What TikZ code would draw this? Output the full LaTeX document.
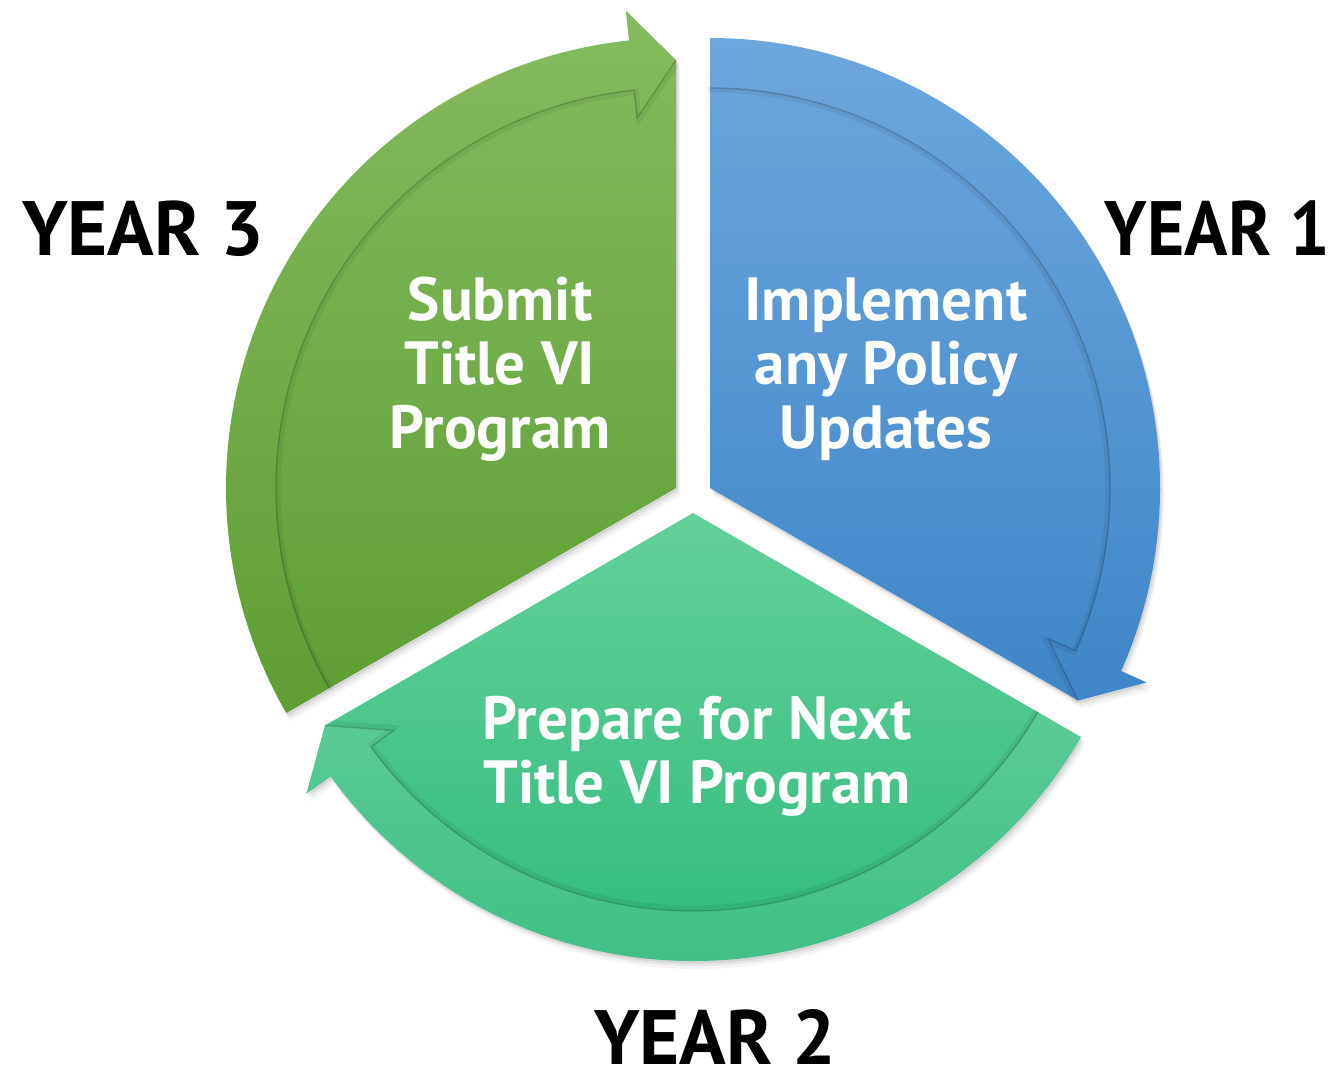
\documentclass[tikz,border=0pt]{standalone}
\usepackage{fontspec}
\setmainfont{PT Sans}
\usetikzlibrary{calc}
\definecolor{blueTop}{HTML}{6CA7DD}
\definecolor{blueBot}{HTML}{3E86C9}
\definecolor{glTop}{HTML}{84BB5E}
\definecolor{glBot}{HTML}{5E9E33}
\definecolor{gbTop}{HTML}{63D09B}
\definecolor{gbBot}{HTML}{31BB7D}
\tikzset{
  inner text/.style={text=white, font=\bfseries\fontsize{61}{64}\selectfont, align=center, inner sep=0pt},
  year text/.style={text=black, font=\bfseries\fontsize{77}{80}\selectfont, inner sep=0pt},
  bandline/.style={draw=black, opacity=.18, line width=1.4pt, line join=miter},
  softshadow/.style={fill=black, opacity=#1}
}
\newcommand\pathBlue{(A1) -- ($(A1)+(90:450)$) arc[start angle=90, end angle=-24, radius=450] -- ($(A1)+(-24:478)$) -- ($(A1)+(-30:425)$) -- cycle}
\newcommand\lineBlue{($(A1)+(90:400)$) arc[start angle=90, end angle=-24, radius=400] -- ($(A1)+(-24:370)$) -- ($(A1)+(-30:425)$)}
\newcommand\pathGL{(A3) -- ($(A3)+(210:450)$) arc[start angle=210, end angle=96, radius=450] -- ($(A3)+(96:480)$) -- ($(A3)+(90:428)$) -- cycle}
\newcommand\lineGL{($(A3)+(210:400)$) arc[start angle=210, end angle=96, radius=400] -- ($(A3)+(96:372)$) -- ($(A3)+(90:428)$)}
\newcommand\pathGB{(A2) -- ($(A2)+(330:448)$) arc[start angle=330, end angle=216, radius=448] -- ($(A2)+(216:478)$) -- ($(A2)+(210:425)$) -- cycle}
\newcommand\bandGB{($(A2)+(330:448)$) arc[start angle=330, end angle=216, radius=448] -- ($(A2)+(216:478)$) -- ($(A2)+(210:425)$) -- ($(A2)+(216:370)$) -- ($(A2)+(216:398)$) arc[start angle=216, end angle=330, radius=398] -- cycle}
\newcommand\lineGB{($(A2)+(330:398)$) arc[start angle=330, end angle=216, radius=398] -- ($(A2)+(216:370)$) -- ($(A2)+(210:425)$)}
\begin{document}
\begin{tikzpicture}[x=1pt,y=1pt]
\useasboundingbox (0,0) rectangle (1335,-1071);
\coordinate (A1) at (710,-488);
\coordinate (A3) at (676,-488);
\coordinate (A2) at (693,-513);
% shadows
\foreach \sx/\sy/\op in {4/-8/0.04, 3/-5/0.06, 1.5/-2.5/0.08}{
  \fill[softshadow=\op, transform canvas={shift={(\sx pt,\sy pt)}}] \pathBlue;
  \fill[softshadow=\op, transform canvas={shift={(\sx pt,\sy pt)}}] \pathGL;
  \fill[softshadow=\op, transform canvas={shift={(\sx pt,\sy pt)}}] \pathGB;
}
% sectors
\shade[top color=blueTop, bottom color=blueBot] \pathBlue;
\shade[top color=glTop, bottom color=glBot] \pathGL;
\shade[top color=gbTop, bottom color=gbBot] \pathGB;
\fill[white, opacity=.08] \bandGB;
% band edges
\draw[bandline] \lineBlue;
\draw[bandline] \lineGL;
\draw[bandline] \lineGB;
\draw[black, opacity=.06, line width=5pt, transform canvas={shift={(-2pt,-2pt)}}] \lineBlue;
\draw[black, opacity=.06, line width=5pt, transform canvas={shift={(2pt,-2pt)}}] \lineGL;
\draw[black, opacity=.06, line width=5pt, transform canvas={shift={(0pt,3pt)}}] \lineGB;
% texts
\node[inner text, anchor=base] (t1) at (886,-448) {Implement\\any Policy\\Updates};
\node[inner text, anchor=base] (t3) at (500,-448) {Submit\\Title VI\\Program};
\node[inner text, anchor=base] (t2) at (697,-803) {Prepare for Next\\Title VI Program};
\node[year text, anchor=base east, xscale=0.93] (y1) at (1330,-255) {YEAR 1};
\node[year text, anchor=base west] (y3) at (22,-255) {YEAR 3};
\node[year text, anchor=base] (y2) at (715,-1064) {YEAR 2};
\end{tikzpicture}
\end{document}
